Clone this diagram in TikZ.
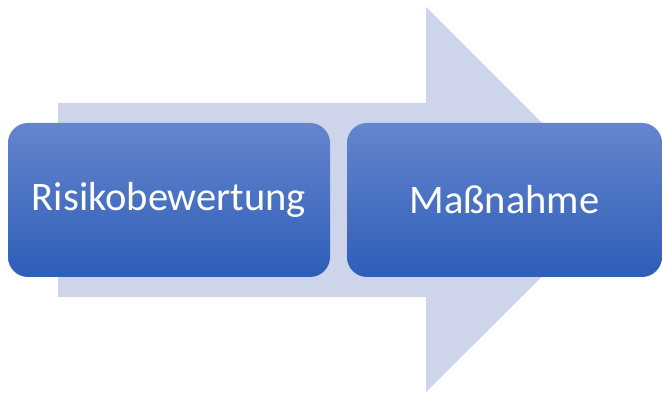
\documentclass[tikz,border=0pt]{standalone}
\usepackage{fontspec}
\setmainfont{Carlito}
\definecolor{arrowbg}{HTML}{CED4EA}
\definecolor{boxtop}{HTML}{6585CD}
\definecolor{boxbot}{HTML}{2E5EB8}
\tikzset{
  stepbox/.style={rounded corners=20pt, top color=boxtop, bottom color=boxbot, draw=none,
    text=white, font=\fontsize{40.5}{46}\selectfont, inner sep=0pt},
}
\begin{document}
\begin{tikzpicture}[x=1pt,y=1pt]
\useasboundingbox (0,0) rectangle (662,393);
% big arrow (y flipped: y = 393 - img_y)
\fill[arrowbg] (58,290) -- (426,290) -- (426,386) -- (619,193) -- (426,1) -- (426,96) -- (58,96) -- cycle;
\node[stepbox, minimum width=322pt, minimum height=154pt] (risk) at (169,193) {Risikobewertung};
\node[stepbox, minimum width=315pt, minimum height=154pt] (mass) at (504.5,193) {Maßnahme};
\end{tikzpicture}
\end{document}
